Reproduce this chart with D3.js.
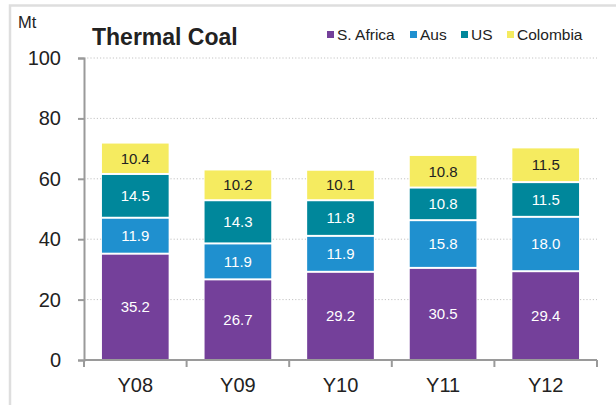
<!DOCTYPE html>
<html>
<head>
<meta charset="utf-8">
<script src="https://cdn.jsdelivr.net/npm/d3@7"></script>
<style>
  body { margin: 0; background: #fff; }
  svg { display: block; font-family: "Liberation Sans", Arial, sans-serif; }
</style>
</head>
<body>
<div id="graph"></div>
<script>
// data
var categories = ['Y08', 'Y09', 'Y10', 'Y11', 'Y12']
var seriesNames = ['S. Africa', 'Aus', 'US', 'Colombia']
var safrica = [35.2, 26.7, 29.2, 30.5, 29.4]
var aus = [11.9, 11.9, 11.9, 15.8, 18.0]
var us = [14.5, 14.3, 11.8, 10.8, 11.5]
var colombia = [10.4, 10.2, 10.1, 10.8, 11.5]
var yTicks = [0, 20, 40, 60, 80, 100]

var colors = ['#74409a', '#1f90cf', '#00879b', '#f5eb60']
var labelColors = ['#fff', '#fff', '#fff', '#222']

var width = 616, height = 405

var rows = categories.map(function(c, i){
  return {cat: c, 'S. Africa': safrica[i], 'Aus': aus[i], 'US': us[i], 'Colombia': colombia[i]}
})

var svg = d3.select('#graph').append('svg')
    .attr('width', width)
    .attr('height', height)

// light frame round the panel
svg.append('path')
    .attr('d', 'M10,405 L10,5.5 L616,5.5')
    .attr('fill', 'none')
    .attr('stroke', '#dedede')
    .attr('stroke-width', 2.5)

var x = d3.scaleBand()
    .domain(categories)
    .range([84, 597])
    .paddingInner(0.35)
    .paddingOuter(0.175)

var y = d3.scaleLinear()
    .domain([0, 100])
    .range([360, 58])

// dotted gridlines
svg.append('g')
  .selectAll('line')
  .data(yTicks.filter(function(d){ return d > 0 }))
  .enter().append('line')
    .attr('x1', 84).attr('x2', 597)
    .attr('y1', function(d){ return y(d) })
    .attr('y2', function(d){ return y(d) })
    .attr('stroke', '#c4c4c4')
    .attr('stroke-width', 1)
    .attr('stroke-dasharray', '1.2,2')

var stack = d3.stack().keys(seriesNames)
var layers = stack(rows)

var g = svg.append('g')
  .selectAll('g')
  .data(layers)
  .enter().append('g')

g.selectAll('rect')
  .data(function(d){ return d })
  .enter().append('rect')
    .attr('x', function(d){ return x(d.data.cat) })
    .attr('width', x.bandwidth())
    .attr('y', function(d){ return y(d[1]) + 1 })
    .attr('height', function(d){ return y(d[0]) - y(d[1]) - 2 })
    .attr('fill', function(d){ return colors[seriesNames.indexOf(this.parentNode.__data__.key)] })

g.each(function(layer, li){
  d3.select(this).selectAll('text')
    .data(layer)
    .enter().append('text')
      .attr('x', function(d){ return x(d.data.cat) + x.bandwidth() / 2 })
      .attr('y', function(d){ return (y(d[0]) + y(d[1])) / 2 })
      .attr('dy', '0.36em')
      .attr('text-anchor', 'middle')
      .attr('font-size', 15)
      .attr('fill', labelColors[li])
      .text(function(d){ return (d[1] - d[0]).toFixed(1) })
})

// y axis
var yAxis = svg.append('g')
    .attr('transform', 'translate(84,0)')
    .call(d3.axisLeft(y).tickValues(yTicks).tickSize(6).tickPadding(17))
yAxis.select('.domain').attr('stroke', '#9a9a9a').attr('stroke-width', 2)
yAxis.selectAll('.tick line').attr('stroke', '#9a9a9a').attr('stroke-width', 2)
yAxis.selectAll('text').attr('font-size', 20).attr('fill', '#222')
    .attr('font-family', '"Liberation Sans", Arial, sans-serif')

// x axis, ticks sit between the bars
var xAxis = svg.append('g')
    .attr('transform', 'translate(0,360)')
    .call(d3.axisBottom(x).tickSize(0).tickPadding(18))
xAxis.select('.domain').attr('d', 'M84,0H597').attr('stroke', '#9a9a9a').attr('stroke-width', 2)
xAxis.selectAll('text').attr('font-size', 20).attr('fill', '#222')
    .attr('font-family', '"Liberation Sans", Arial, sans-serif')
xAxis.selectAll('.sep')
  .data(d3.range(categories.length + 1))
  .enter().append('line')
    .attr('class', 'sep')
    .attr('x1', function(i){ return 84 + i * x.step() })
    .attr('x2', function(i){ return 84 + i * x.step() })
    .attr('y1', 0).attr('y2', 7)
    .attr('stroke', '#9a9a9a').attr('stroke-width', 2)

// unit and title
svg.append('text')
    .attr('x', 18).attr('y', 28)
    .attr('font-size', 16.5).attr('fill', '#222')
    .text('Mt')

svg.append('text')
    .attr('x', 92).attr('y', 45)
    .attr('font-size', 23).attr('font-weight', 'bold').attr('fill', '#222')
    .text('Thermal Coal')

// legend
var legendX = [327, 410, 461, 507]
var legend = svg.append('g')
  .selectAll('g')
  .data(seriesNames)
  .enter().append('g')
    .attr('transform', function(d, i){ return 'translate(' + legendX[i] + ',0)' })
legend.append('rect')
    .attr('x', 0).attr('y', 31)
    .attr('width', 7).attr('height', 7)
    .attr('fill', function(d, i){ return colors[i] })
legend.append('text')
    .attr('x', 10).attr('y', 40)
    .attr('font-size', 15.5).attr('fill', '#222')
    .text(function(d){ return d })
</script>
</body>
</html>
